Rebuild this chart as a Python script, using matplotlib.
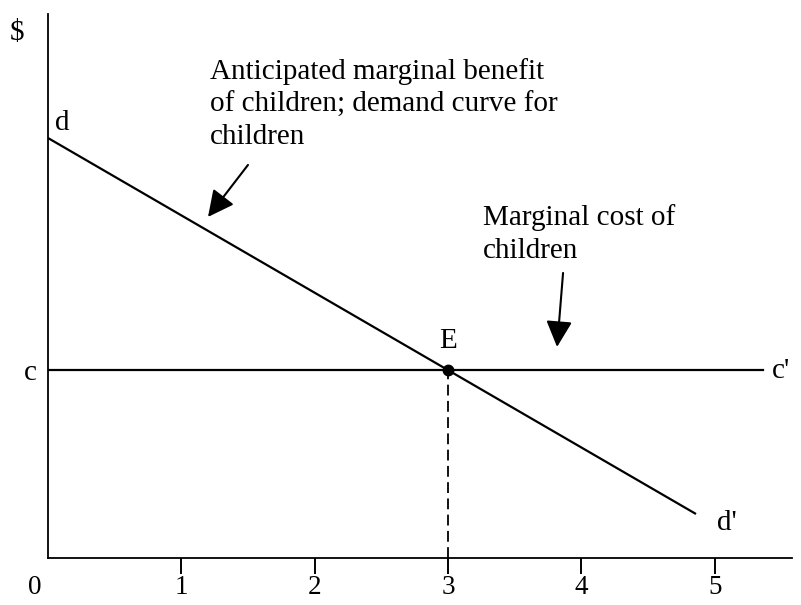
import matplotlib.pyplot as plt

# demand (anticipated marginal benefit) and marginal cost lines
demand_q = [0.0, 4.86]
demand_p = [3.15, 0.33]
cost_q = [0.0, 5.36]
cost_p = [1.41, 1.41]
eq_q = 3.0
eq_p = 1.41
tick_vals = [1, 2, 3, 4, 5]
tick_labels = ['1', '2', '3', '4', '5']

plt.rcParams['font.family'] = ['Liberation Serif', 'DejaVu Serif']
FS = 21
TICK_FS = 19.5

fig = plt.figure(figsize=(8.01, 6.05), dpi=100)
ax = fig.add_axes([48 / 801, 47 / 605, (792 - 48) / 801, (558 - 14) / 605])
ax.set_xlim(0, 5.58)
ax.set_ylim(0, 4.08)

for s in ['top', 'right']:
    ax.spines[s].set_visible(False)
ax.spines['left'].set_linewidth(1.3)
ax.spines['bottom'].set_linewidth(1.3)

ax.set_xticks(tick_vals)
ax.set_xticklabels(tick_labels, fontsize=TICK_FS)
ax.set_yticks([])
ax.tick_params(axis='x', direction='out', length=11.5, width=1.4, pad=1)

ax.plot(demand_q, demand_p, color='black', lw=1.6, solid_capstyle='butt')
ax.plot(cost_q, cost_p, color='black', lw=1.6)
ax.plot([eq_q, eq_q], [0, eq_p], color='black', lw=1.3, ls=(0, (6, 3)))
ax.plot([eq_q], [eq_p], 'o', color='black', ms=7.5)

# labels
ax.text(-0.236, 3.94, '$', fontsize=FS, ha='center', va='center', clip_on=False)
ax.text(-0.1, -0.128, '0', fontsize=TICK_FS, ha='center', va='top', clip_on=False)
ax.text(-0.13, 1.335, 'c', fontsize=FS, ha='center', va='baseline', clip_on=False)
ax.text(5.43, 1.35, "c'", fontsize=FS, ha='left', va='baseline', clip_on=False)
ax.text(0.05, 3.21, 'd', fontsize=FS, ha='left', va='baseline')
ax.text(5.02, 0.21, "d'", fontsize=FS, ha='left', va='baseline')
ax.text(eq_q, 1.575, 'E', fontsize=FS, ha='center', va='baseline')

ax.text(1.215, 3.75, 'Anticipated marginal benefit\nof children; demand curve for\nchildren',
        fontsize=FS, ha='left', va='top', linespacing=1.33)
ax.text(3.263, 2.655, 'Marginal cost of\nchildren', fontsize=FS, ha='left', va='top',
        linespacing=1.33)

arrow = dict(arrowstyle='-|>,head_length=0.8,head_width=0.4', color='black', lw=1.5,
             mutation_scale=20, shrinkA=0, shrinkB=0)
ax.annotate('', xy=(1.2, 2.558), xytext=(1.5, 2.948), arrowprops=arrow)
ax.annotate('', xy=(3.818, 1.583), xytext=(3.863, 2.138), arrowprops=arrow)

fig.savefig('out.png', dpi=100)
